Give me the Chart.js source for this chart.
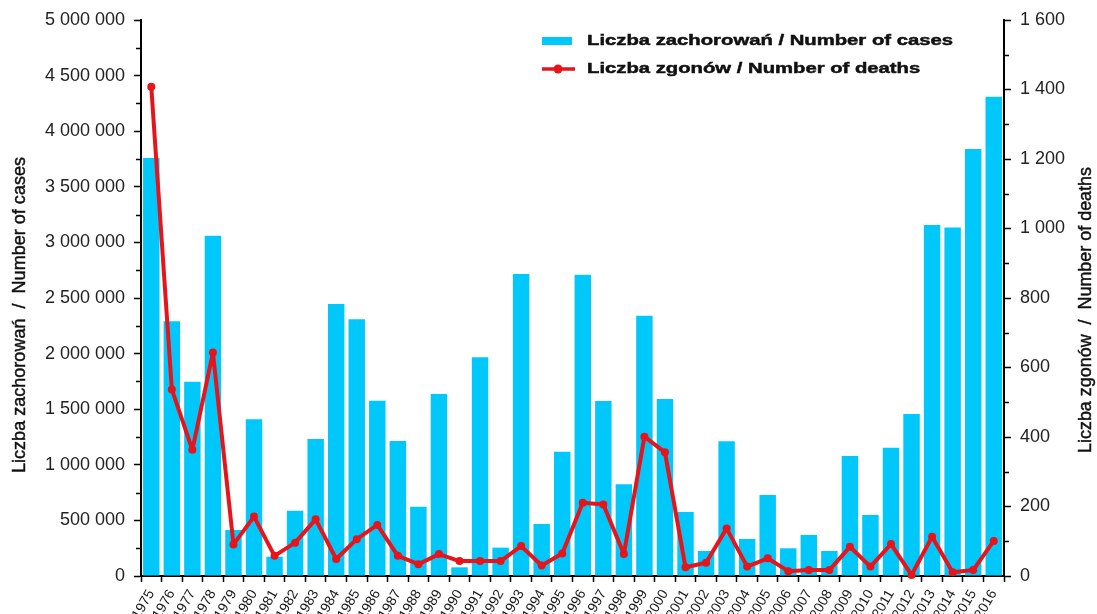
<!DOCTYPE html>
<html lang="pl">
<head>
<meta charset="UTF-8" />
<title>Zachorowania i zgony</title>
<script src="https://cdn.jsdelivr.net/npm/chart.js@4.4.1/dist/chart.umd.min.js"></script>
<style>
  html, body { margin: 0; padding: 0; background: #fff; }
  #wrap { width: 1097px; height: 614px; }
</style>
</head>
<body>
<div id="wrap"><canvas id="chart" width="1097" height="614"></canvas></div>
<script>
const years = [
  "1975", "1976", "1977", "1978", "1979", "1980", "1981", "1982", "1983", "1984",
  "1985", "1986", "1987", "1988", "1989", "1990", "1991", "1992", "1993", "1994",
  "1995", "1996", "1997", "1998", "1999", "2000", "2001", "2002", "2003", "2004",
  "2005", "2006", "2007", "2008", "2009", "2010", "2011", "2012", "2013", "2014",
  "2015", "2016"
];

// liczba zachorowan / number of cases
const cases = [
  3760000, 2290000, 1747000, 3060000, 414000, 1409000, 174000, 587000, 1232000, 2446000,
  2308000, 1577000, 1214000, 623000, 1637000, 78000, 1967000, 255000, 2716000, 468000,
  1118000, 2710000, 1574000, 825000, 2341000, 1592000, 575000, 225000, 1211000, 333000,
  728000, 249000, 369000, 225000, 1079000, 549000, 1154000, 1457000, 3157000, 3133000,
  3840000, 4310000
];

// liczba zgonow / number of deaths
const deaths = [
  1408, 537, 363, 643, 91, 171, 58, 96, 163, 49,
  106, 147, 58, 34, 63, 43, 43, 43, 86, 30,
  65, 211, 206, 63, 401, 356, 25, 38, 137, 27,
  51, 14, 17, 17, 84, 27, 92, 3, 113, 11,
  17, 101
];

const casesLabel = "Liczba zachorowań / Number of cases";
const deathsLabel = "Liczba zgonów / Number of deaths";
const leftTitle = "Liczba zachorowań  /  Number of cases";
const rightTitle = "Liczba zgonów  /  Number of deaths";

const casesMax = 5000000, casesStep = 500000;
const deathsMax = 1600, deathsStep = 200;

const spaced = (v) => String(v).replace(/\B(?=(\d{3})+(?!\d))/g, " ");

const tickFont = { family: "'Liberation Sans', Arial, sans-serif", size: 18 };

// short marks half way between the labelled ticks
const minorTicks = {
  id: "minorTicks",
  afterDraw(chart) {
    const { ctx } = chart;
    ctx.save();
    ctx.strokeStyle = "#000";
    ctx.lineWidth = 1.5;
    [["y", casesStep, -1], ["y1", deathsStep, 1]].forEach(([id, step, dir]) => {
      const s = chart.scales[id];
      const x0 = dir < 0 ? s.right : s.left;
      for (let v = step / 2; v < s.max; v += step) {
        const py = Math.round(s.getPixelForValue(v)) + 0.5;
        ctx.beginPath();
        ctx.moveTo(x0, py);
        ctx.lineTo(x0 + dir * 5, py);
        ctx.stroke();
      }
    });
    ctx.restore();
  }
};

// vertical axis titles, both reading bottom to top
const axisTitles = {
  id: "axisTitles",
  afterDraw(chart) {
    const { ctx, chartArea } = chart;
    const mid = (chartArea.top + chartArea.bottom) / 2;
    ctx.save();
    ctx.fillStyle = "#111";
    ctx.strokeStyle = "#111";
    ctx.lineWidth = 0.4;
    ctx.textAlign = "center";
    ctx.textBaseline = "middle";
    ctx.font = "17px 'Liberation Sans', Arial, sans-serif";
    [[20, mid + 17, leftTitle, 316], [chart.width - 11, mid + 12, rightTitle, 286]].forEach(([x, y, text, len]) => {
      const k = len / ctx.measureText(text).width;
      ctx.save();
      ctx.translate(x, y);
      ctx.rotate(-Math.PI / 2);
      ctx.scale(k, 1.1);
      ctx.fillText(text, 0, 0);
      ctx.strokeText(text, 0, 0);
      ctx.restore();
    });
    ctx.restore();
  }
};

// legend in the upper right of the plot
const legendBox = {
  id: "legendBox",
  afterDraw(chart) {
    const { ctx } = chart;
    const [bars, line] = chart.data.datasets;
    const x = 542, y0 = 41, gap = 28;
    ctx.save();
    ctx.font = "bold 15.5px 'Liberation Sans', Arial, sans-serif";
    ctx.textBaseline = "middle";

    ctx.fillStyle = bars.backgroundColor;
    ctx.fillRect(x, y0 - 4, 30, 8);

    ctx.strokeStyle = line.borderColor;
    ctx.lineWidth = 3.5;
    ctx.beginPath();
    ctx.moveTo(x, y0 + gap);
    ctx.lineTo(x + 33, y0 + gap);
    ctx.stroke();
    ctx.fillStyle = line.borderColor;
    ctx.beginPath();
    ctx.arc(x + 16, y0 + gap, 4.5, 0, Math.PI * 2);
    ctx.fill();

    const k = 366 / ctx.measureText(bars.label).width;
    ctx.fillStyle = "#111";
    ctx.strokeStyle = "#111";
    ctx.lineWidth = 0.5;
    [[bars.label, y0], [line.label, y0 + gap]].forEach(([t, y]) => {
      ctx.save();
      ctx.translate(x + 45, y);
      ctx.scale(k, 1);
      ctx.fillText(t, 0, 0);
      ctx.strokeText(t, 0, 0);
      ctx.restore();
    });
    ctx.restore();
  }
};

new Chart(document.getElementById("chart"), {
  data: {
    labels: years,
    datasets: [
      {
        type: "bar",
        label: casesLabel,
        data: cases,
        backgroundColor: "#00c8fa",
        barPercentage: 0.8,
        categoryPercentage: 1,
        yAxisID: "y",
        order: 2
      },
      {
        type: "line",
        label: deathsLabel,
        data: deaths,
        borderColor: "#e8141b",
        backgroundColor: "#e8141b",
        borderWidth: 4,
        borderJoinStyle: "round",
        pointRadius: 4,
        pointHoverRadius: 4,
        pointBorderWidth: 0,
        tension: 0,
        yAxisID: "y1",
        order: 1,
        clip: 6
      }
    ]
  },
  options: {
    responsive: false,
    animation: false,
    devicePixelRatio: 1,
    layout: { padding: { top: 20, left: 0, right: 0, bottom: 0 } },
    plugins: {
      legend: { display: false },
      tooltip: { enabled: false }
    },
    scales: {
      x: {
        offset: true,
        grid: {
          offset: true,
          drawOnChartArea: false,
          drawTicks: true,
          tickLength: 6,
          tickColor: "#000",
          tickWidth: 1.5
        },
        border: { color: "#000", width: 2 },
        ticks: {
          autoSkip: false,
          minRotation: 60,
          maxRotation: 60,
          padding: 5,
          color: "#1a1a1a",
          font: { family: "'Liberation Sans', Arial, sans-serif", size: 14 }
        },
        afterFit: (s) => { s.height = 38; }
      },
      y: {
        position: "left",
        min: 0,
        max: casesMax,
        grid: {
          drawOnChartArea: false,
          tickLength: 7,
          tickColor: "#000",
          tickWidth: 1.5
        },
        border: { color: "#000", width: 2 },
        ticks: {
          stepSize: casesStep,
          padding: 9,
          color: "#222",
          font: tickFont,
          callback: (v) => spaced(v)
        },
        afterFit: (s) => { s.width = 141; }
      },
      y1: {
        position: "right",
        min: 0,
        max: deathsMax,
        grid: {
          drawOnChartArea: false,
          tickLength: 7,
          tickColor: "#000",
          tickWidth: 1.5
        },
        border: { color: "#000", width: 2 },
        ticks: {
          stepSize: deathsStep,
          padding: 9,
          color: "#222",
          font: tickFont,
          callback: (v) => spaced(v)
        },
        afterFit: (s) => { s.width = 93; }
      }
    }
  },
  plugins: [minorTicks, axisTitles, legendBox]
});
</script>
</body>
</html>
